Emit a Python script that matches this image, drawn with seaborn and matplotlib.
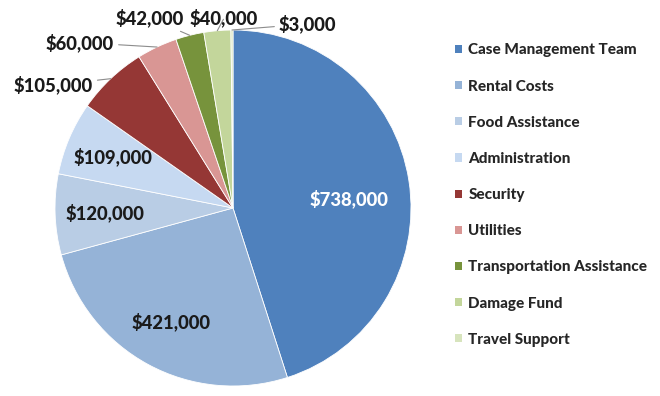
import matplotlib.pyplot as plt
import seaborn as sns
import numpy as np
from matplotlib.patches import Patch

categories = ["Case Management Team", "Rental Costs", "Food Assistance", "Administration",
              "Security", "Utilities", "Transportation Assistance", "Damage Fund", "Travel Support"]
amounts = [738000, 421000, 120000, 109000, 105000, 60000, 42000, 40000, 3000]
colors = ["#4F81BD", "#95B3D7", "#B9CDE5", "#C6D9F1", "#953735",
          "#D99694", "#77933C", "#C3D69B", "#D7E4BD"]

sns.set_theme(style="white")
plt.rcParams["font.family"] = ["Lato", "DejaVu Sans"]

fig = plt.figure(figsize=(6.6, 3.96), dpi=100)
ax = fig.add_axes([0, 0, 0.65, 1])

wedges, _ = ax.pie(amounts, colors=colors, startangle=90, counterclock=False,
                   wedgeprops=dict(linewidth=0.6, edgecolor="white"))
ax.set_xlim(-233 / 178, 196 / 178)
ax.set_ylim(-188 / 178, 208 / 178)

# label placement: inside radius for big slices, fixed spots for small ones
inside = {0: 0.66, 1: 0.73, 2: 0.72, 3: 0.73}
outside = {4: (-1.01, 0.69), 5: (-0.86, 0.93), 6: (-0.466, 1.067),
           7: (-0.05, 1.067), 8: (0.42, 1.034)}

for i, w in enumerate(wedges):
    ang = np.deg2rad((w.theta1 + w.theta2) / 2)
    txt = f"${amounts[i]:,}"
    if i in inside:
        r = inside[i]
        ax.text(r * np.cos(ang), r * np.sin(ang) - (0.05 if i == 0 else 0), txt,
                ha="center", va="center", fontsize=13.3, fontweight="black",
                color="white" if i == 0 else "#1a1a1a")
    else:
        ax.annotate(txt, xy=(np.cos(ang), np.sin(ang)), xytext=outside[i],
                    ha="center", va="center", fontsize=13.3, fontweight="black",
                    color="#1a1a1a", annotation_clip=False,
                    arrowprops=dict(arrowstyle="-", color="#8c8c8c", lw=0.8,
                                    shrinkA=1, shrinkB=0))

handles = [Patch(facecolor=c, edgecolor="none") for c in colors]
fig.legend(handles, categories, loc="upper left", bbox_to_anchor=(0.669, 0.925),
           frameon=False, prop=dict(weight="black", size=11),
           handlelength=0.45, handleheight=0.45, handletextpad=0.4,
           labelspacing=1.45)

fig.savefig("out.png", dpi=100)
